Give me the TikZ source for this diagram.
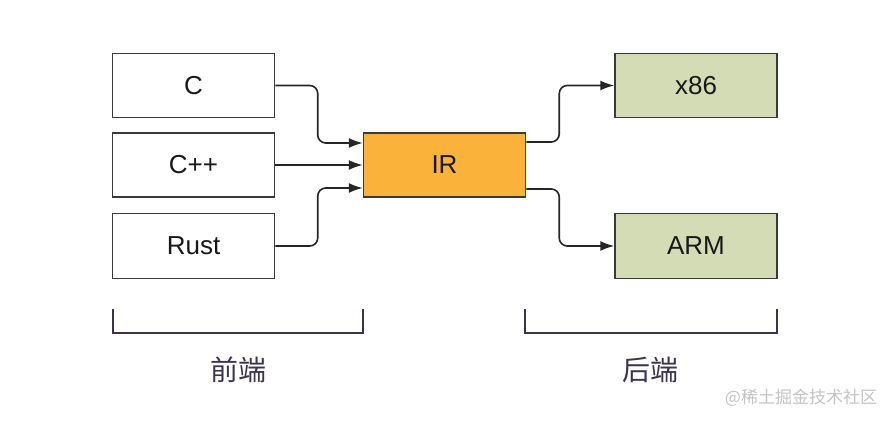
\documentclass[tikz,border=0pt]{standalone}
\usepackage{fontspec}
\setmainfont{Liberation Sans}
\newfontfamily\cjk{Noto Sans CJK SC}
\usetikzlibrary{arrows.meta,calc}
\definecolor{boxline}{HTML}{3A3A3A}
\definecolor{irfill}{HTML}{FAB23A}
\definecolor{greenfill}{HTML}{D4DCB5}
\definecolor{brk}{HTML}{3B3350}
\definecolor{wm}{HTML}{C4C4C4}
\tikzset{
  box/.style={draw=boxline, line width=1.5pt, minimum width=162pt, minimum height=64pt, inner sep=0pt, font=\fontsize{26}{30}\selectfont, text=black!90},
  srcbox/.style={box, fill=white},
  irbox/.style={box, fill=irfill},
  tgtbox/.style={box, fill=greenfill},
  conn/.style={draw=black!85, line width=1.6pt, rounded corners=8pt, -{Latex[length=14pt,width=10pt]}},
  bracket/.style={draw=brk, line width=1.6pt},
  cnlabel/.style={font=\cjk\fontsize{28}{32}\selectfont, text=brk},
}
\begin{document}
\begin{tikzpicture}[x=1pt,y=-1pt]
\useasboundingbox[fill=white] (0,0) rectangle (896,422);
\node[srcbox] (c)    at (193.5,85.5) {C};
\node[srcbox] (cpp)  at (193.5,165)  {C++};
\node[srcbox, minimum height=65pt] (rust) at (193.5,246) {Rust};
\node[irbox]  (ir)   at (444.5,165)  {IR};
\node[tgtbox] (x86)  at (696,85.5)   {x86};
\node[tgtbox, minimum height=65pt] (arm) at (696,246) {ARM};

\draw[conn] (c.east) -| ($(ir.west)+(-45,-22)$) -- ($(ir.west)+(0,-22)$);
\draw[conn] (cpp.east) -- (ir.west);
\draw[conn] (rust.east) -| ($(ir.west)+(-45,23)$) -- ($(ir.west)+(0,23)$);
\draw[conn] ($(ir.east)+(0,-23)$) -| ($(x86.west)+(-55,0)$) -- (x86.west);
\draw[conn] ($(ir.east)+(0,24)$) -| ($(arm.west)+(-55,0)$) -- (arm.west);

\draw[bracket] (113,309) -- (113,333) -- (363,333) -- (363,309);
\draw[bracket] (525,309) -- (525,333) -- (777,333) -- (777,309);

\node[cnlabel] (fe) at (238,370) {前端};
\node[cnlabel] (be) at (650,370) {后端};
\node[font=\cjk\fontsize{17}{20}\selectfont, text=wm] (wmk) at (801,398) {@稀土掘金技术社区};
\end{tikzpicture}
\end{document}
